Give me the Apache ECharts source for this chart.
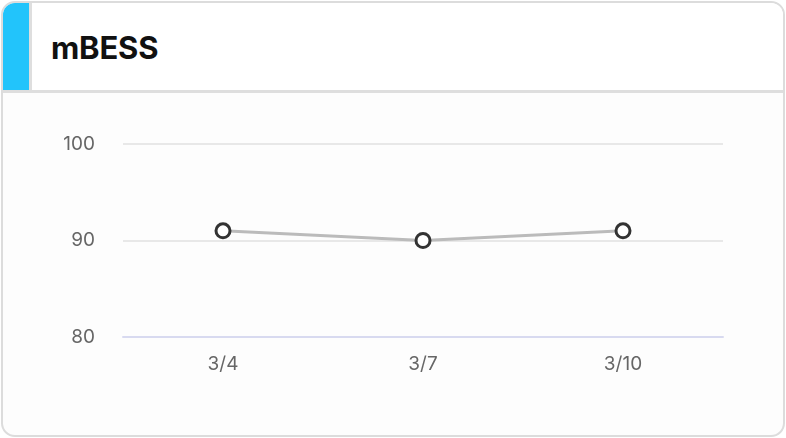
<!DOCTYPE html>
<html><head><meta charset="utf-8">
<script src="https://cdn.jsdelivr.net/npm/echarts@6/dist/echarts.min.js"></script>
<style>
html,body{margin:0;padding:0;width:786px;height:438px;background:#ffffff;overflow:hidden;font-family:Inter,"Noto Sans",sans-serif;}
#card{position:absolute;left:1px;top:1px;width:780px;height:432px;border:2px solid #dcdcdc;border-radius:14px;background:#fdfdfd;overflow:hidden;}
#head{position:absolute;left:0;top:0;right:0;height:87px;border-bottom:3px solid #dedede;background:#fff;}
#bar{position:absolute;left:0;top:0;width:26px;height:87px;background:#22c4fb;border-right:3px solid #dedede;}
#title{position:absolute;left:48px;top:26px;font-size:31px;font-weight:700;color:#111;line-height:38px;letter-spacing:-0.2px;}
#chart{position:absolute;left:0;top:0;width:786px;height:438px;}
</style></head>
<body>
<div id="card"><div id="head"><div id="bar"></div><div id="title">mBESS</div></div></div>
<div id="chart"></div>
<script>
const categories = ["3/4", "3/7", "3/10"];
const values = [91, 90, 91];
const yTicks = {min: 80, max: 100, interval: 10};

const chart = echarts.init(document.getElementById('chart'), null, {renderer: 'canvas'});
chart.setOption({
  backgroundColor: 'transparent',
  animation: false,
  grid: {left: 123, right: 63, top: 144, bottom: 101},
  xAxis: {
    type: 'category',
    data: categories,
    boundaryGap: true,
    axisLine: {show: true, lineStyle: {color: '#d8daf0', width: 2}},
    axisTick: {show: false},
    axisLabel: {color: '#666', fontSize: 19, margin: 18, fontFamily: 'Inter'}
  },
  yAxis: {
    type: 'value',
    min: yTicks.min, max: yTicks.max, interval: yTicks.interval,
    axisLine: {show: false},
    axisTick: {show: false},
    splitLine: {lineStyle: {color: '#e8e8e8', width: 2}},
    axisLabel: {color: '#666', fontSize: 19, margin: 28, fontFamily: 'Inter', padding: [3, 0, 0, 0]}
  },
  series: [{
    type: 'line',
    data: values,
    symbol: 'circle',
    symbolSize: 14,
    lineStyle: {color: '#bbbbbb', width: 3},
    itemStyle: {color: '#ffffff', borderColor: '#333333', borderWidth: 3}
  }]
});
</script>
</body></html>
